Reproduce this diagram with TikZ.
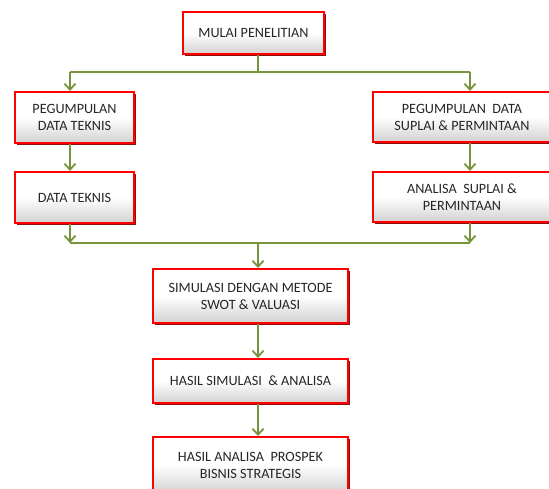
\documentclass[tikz,border=0pt]{standalone}
\usepackage{fontspec}
\setmainfont{Carlito}
\usetikzlibrary{arrows.meta,shadows}
\definecolor{arrgreen}{HTML}{77933C}
\definecolor{boxred}{HTML}{FF0000}
\definecolor{shadered}{HTML}{8B1010}
\tikzset{
  flowbox/.style={draw=boxred, line width=2pt, top color=white, bottom color=black!18, middle color=white,
    minimum width=#1, align=center, inner sep=2pt, text=black!85,
    font=\fontsize{14.2}{17}\selectfont,
    drop shadow={shadow xshift=2pt, shadow yshift=-2pt, fill=shadered, opacity=1}},
  conn/.style={draw=arrgreen, line width=1.8pt},
  arr/.style={conn, -{Straight Barb[length=6pt,width=11pt,line width=1.8pt]}}
}
\begin{document}
\begin{tikzpicture}[x=1pt,y=-1pt]
\useasboundingbox (0,0) rectangle (549,488);
\clip (0,0) rectangle (549,488);
\node[flowbox=141pt, minimum height=42pt] (mulai) at (253.5,33) {MULAI PENELITIAN};
\node[flowbox=119pt, minimum height=51pt] (pdt) at (74.5,117.5) {PEGUMPULAN\\DATA TEKNIS};
\node[flowbox=119pt, minimum height=51pt] (dt) at (74.5,197.5) {DATA TEKNIS};
\node[flowbox=178pt, minimum height=50pt] (pds) at (462,117) {PEGUMPULAN\ \ DATA\\SUPLAI \& PERMINTAAN};
\node[flowbox=178pt, minimum height=50pt] (asp) at (462,197) {ANALISA\ \ SUPLAI \&\\PERMINTAAN};
\node[flowbox=195pt, minimum height=54pt] (sim) at (250.5,296) {SIMULASI DENGAN METODE\\SWOT \& VALUASI};
\node[flowbox=195pt, minimum height=44pt] (hsa) at (250.5,381) {HASIL SIMULASI\ \ \& ANALISA};
\node[flowbox=195pt, minimum height=56pt] (hap) at (250.5,465) {HASIL ANALISA\ \ PROSPEK\\BISNIS STRATEGIS};
\coordinate (split) at (258,72);
\coordinate (lx) at (70,72);
\coordinate (rx) at (470,72);
\coordinate (merge) at (258,243);
\coordinate (lb) at (70,243);
\coordinate (rb) at (470,243);
\draw[conn] (mulai.south -| split) -- (split);
\draw[conn] (lx) -- (rx);
\draw[arr] (lx) -- (pdt.north -| lx);
\draw[arr] (rx) -- (pds.north -| rx);
\draw[arr] (pdt.south -| lx) -- (dt.north -| lx);
\draw[arr] (pds.south -| rx) -- (asp.north -| rx);
\draw[arr] (dt.south -| lx) -- (lb);
\draw[arr] (asp.south -| rx) -- (rb);
\draw[conn] (lb) -- (rb);
\draw[arr] (merge) -- (sim.north -| merge);
\draw[arr] (sim.south -| merge) -- (hsa.north -| merge);
\draw[arr] (hsa.south -| merge) -- (hap.north -| merge);
\end{tikzpicture}
\end{document}
